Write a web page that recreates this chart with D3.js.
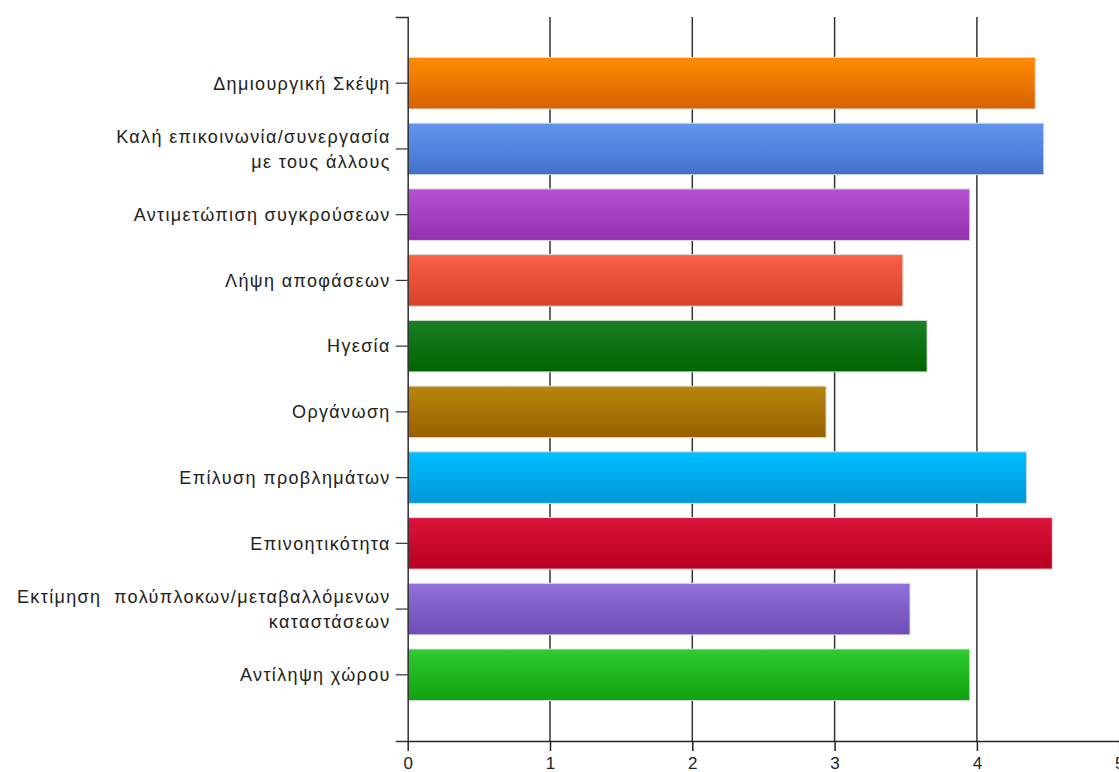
<!DOCTYPE html>
<html>
<head>
<meta charset="utf-8">
<script src="https://cdn.jsdelivr.net/npm/d3@7"></script>
<style>
  body { margin: 0; background: #fff; }
  svg { display: block; }
  text { font-family: "Liberation Sans", Arial, sans-serif; fill: #222; white-space: pre; }
</style>
</head>
<body>
<svg id="chart" width="1119" height="772"></svg>
<script>
const categories = [
  "Δημιουργική Σκέψη",
  "Καλή επικοινωνία/συνεργασία\nμε τους άλλους",
  "Αντιμετώπιση συγκρούσεων",
  "Λήψη αποφάσεων",
  "Ηγεσία",
  "Οργάνωση",
  "Επίλυση προβλημάτων",
  "Επινοητικότητα",
  "Εκτίμηση  πολύπλοκων/μεταβαλλόμενων\nκαταστάσεων",
  "Αντίληψη χώρου"
];
const values = [4.41, 4.47, 3.95, 3.48, 3.65, 2.94, 4.35, 4.53, 3.53, 3.95];
const topColors = ["#ff8c00", "#6495ed", "#b652d2", "#fa6046", "#1a8024", "#b8860b", "#00bfff", "#dc143c", "#9370db", "#30cc30"];
const bottomColors = ["#d66200", "#4271cc", "#9430ae", "#d8412a", "#006400", "#966000", "#0098d8", "#b80020", "#6c4cb6", "#10a210"];
const xTicks = [0, 1, 2, 3, 4, 5];

const svg = d3.select("#chart");
const plotLeft = 407.7, plotRight = 1119.2, plotTop = 17, plotBottom = 741;

const x = d3.scaleLinear().domain([0, 5]).range([plotLeft, plotRight]);
const y = d3.scaleBand()
  .domain(categories)
  .range([plotTop, plotBottom])
  .paddingInner(0.216)
  .paddingOuter(0.615);

const defs = svg.append("defs");
categories.forEach((c, i) => {
  const g = defs.append("linearGradient")
    .attr("id", "grad" + i)
    .attr("x1", 0).attr("y1", 0).attr("x2", 0).attr("y2", 1);
  g.append("stop").attr("offset", "0%").attr("stop-color", topColors[i]);
  g.append("stop").attr("offset", "100%").attr("stop-color", bottomColors[i]);
});

// vertical grid lines
svg.append("g")
  .selectAll("line")
  .data(xTicks.filter(d => d > 0 && d < 5))
  .join("line")
  .attr("x1", d => x(d)).attr("x2", d => x(d))
  .attr("y1", plotTop).attr("y2", plotBottom)
  .attr("stroke", "#333")
  .attr("stroke-width", 1.5);

// bars
svg.append("g")
  .selectAll("rect")
  .data(values)
  .join("rect")
  .attr("x", x(0))
  .attr("y", (d, i) => y(categories[i]))
  .attr("width", d => x(d) - x(0))
  .attr("height", y.bandwidth())
  .attr("fill", (d, i) => `url(#grad${i})`)
  .attr("stroke", "#ddd")
  .attr("stroke-width", 1);

// x axis
const xAxis = svg.append("g")
  .attr("transform", `translate(0,${plotBottom})`)
  .call(d3.axisBottom(x).tickValues(xTicks).tickFormat(d3.format("d"))
    .tickSizeInner(10).tickSizeOuter(0).tickPadding(6));
xAxis.select(".domain").attr("stroke", "#222").attr("stroke-width", 1.5);
xAxis.selectAll(".tick line").attr("stroke", "#222").attr("stroke-width", 1.5);
xAxis.selectAll("text")
  .style("font-size", "17px")
  .style("font-family", "'Liberation Sans', Arial, sans-serif")
  .attr("fill", "#222");

// y axis
const yAxis = svg.append("g")
  .attr("transform", `translate(${plotLeft},0)`)
  .call(d3.axisLeft(y).tickSizeInner(12).tickSizeOuter(12).tickPadding(5).tickFormat(""));
yAxis.select(".domain").attr("stroke", "#333").attr("stroke-width", 1.5);
yAxis.selectAll(".tick line").attr("stroke", "#333").attr("stroke-width", 1.2);

yAxis.selectAll(".tick").each(function(d) {
  const lines = d.split("\n");
  const lh = 25;
  const t = d3.select(this).append("text")
    .attr("text-anchor", "end")
    .attr("fill", "#222")
    .style("font-size", "18px")
    .style("letter-spacing", "1.35px");
  lines.forEach((ln, k) => {
    t.append("tspan")
      .attr("x", -17)
      .attr("y", (k - (lines.length - 1) / 2) * lh)
      .attr("dy", "0.35em")
      .text(ln);
  });
});
</script>
</body>
</html>
